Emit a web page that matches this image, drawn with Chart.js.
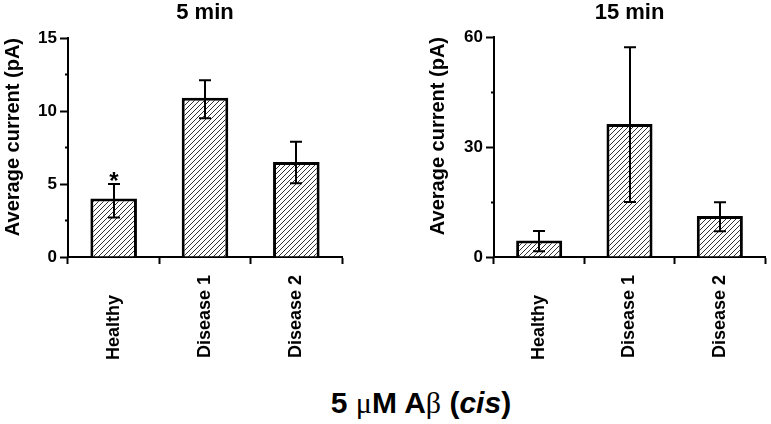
<!DOCTYPE html>
<html>
<head>
<meta charset="utf-8">
<script src="https://cdn.jsdelivr.net/npm/chart.js@4"></script>
<style>
  body { margin: 0; background: #fff; }
  #wrap { position: relative; width: 771px; height: 424px; overflow: hidden; font-family: "Liberation Sans", Arial, sans-serif; }
  #left { position: absolute; left: 0; top: 0; }
  #right { position: absolute; left: 425px; top: 0; }
  #caption { position: absolute; left: 221px; width: 400px; top: 388px; text-align: center;
             font-weight: bold; font-size: 30px; line-height: 30px; color: #000; }
  #caption .sym { font-family: "Liberation Serif", serif; font-weight: normal; }
</style>
</head>
<body>
<div id="wrap">
  <canvas id="left" width="360" height="370"></canvas>
  <canvas id="right" width="346" height="370"></canvas>
  <div id="caption">5 <span class="sym">μ</span>M A<span class="sym">β</span> (<i>cis</i>)</div>
</div>
<script>
'use strict';

// values
let categories = ['Healthy', 'Disease 1', 'Disease 2'];

let fiveMinValues = [4.0, 10.9, 6.5];
let fiveMinErrLow = [2.7, 9.5, 5.05];
let fiveMinErrHigh = [5.0, 12.1, 7.9];
let fiveMinMarks = ['*', '', ''];
let fiveMinTicks = [0, 5, 10, 15];
let fiveMinMinorTicks = [2.5, 7.5, 12.5];

let fifteenMinValues = [4.5, 36.3, 11.2];
let fifteenMinErrLow = [1.6, 15.0, 7.0];
let fifteenMinErrHigh = [7.1, 57.2, 14.9];
let fifteenMinMarks = ['', '', ''];
let fifteenMinTicks = [0, 30, 60];
let fifteenMinMinorTicks = [15, 45];

const FONT = '"Liberation Sans", Arial, sans-serif';
const LABEL_SIZE = 18;
Chart.defaults.font.family = FONT;
Chart.defaults.color = '#000';

// diagonal hatch fill for the bars
function makeHatch() {
  let size = 5;
  let c = document.createElement('canvas');
  c.width = size;
  c.height = size;
  let g = c.getContext('2d');
  g.fillStyle = '#fff';
  g.fillRect(0, 0, size, size);
  g.strokeStyle = '#333';
  g.lineWidth = 1;
  g.beginPath();
  g.moveTo(0, size); g.lineTo(size, 0);
  g.moveTo(-1, 1); g.lineTo(1, -1);
  g.moveTo(size - 1, size + 1); g.lineTo(size + 1, size - 1);
  g.stroke();
  return g.createPattern(c, 'repeat');
}

// error bars (and the significance star) drawn from the y scale
function makeErrorBars(low, high, marks) {
  return {
    id: 'errorBars',
    afterDatasetsDraw(chart) {
      let ctx = chart.ctx;
      let y = chart.scales.y;
      let meta = chart.getDatasetMeta(0);
      ctx.save();
      ctx.strokeStyle = '#000';
      ctx.lineWidth = 2;
      meta.data.forEach((bar, i) => {
        let x = Math.round(bar.x);
        let top = y.getPixelForValue(high[i]);
        let bottom = y.getPixelForValue(low[i]);
        ctx.beginPath();
        ctx.moveTo(x, top); ctx.lineTo(x, bottom);
        ctx.moveTo(x - 6, top); ctx.lineTo(x + 6, top);
        ctx.moveTo(x - 6, bottom); ctx.lineTo(x + 6, bottom);
        ctx.stroke();
        if (marks[i]) {
          ctx.fillStyle = '#000';
          ctx.font = 'bold 24px ' + FONT;
          ctx.textAlign = 'center';
          ctx.textBaseline = 'alphabetic';
          ctx.fillText(marks[i], x, top + 5);
        }
      });
      ctx.restore();
    }
  };
}

// pad shorter names so the rotated labels all end on the same line
function padLabel(value, index) {
  let ctx = this.chart.ctx;
  ctx.save();
  ctx.font = 'bold ' + LABEL_SIZE + 'px ' + FONT;
  let widths = categories.map(c => ctx.measureText(c).width);
  let space = ctx.measureText(' ').width;
  ctx.restore();
  let n = Math.round((Math.max(...widths) - widths[index]) / space);
  return categories[index] + ' '.repeat(n);
}

function buildChart(id, title, values, low, high, marks, majorTicks, minorTicks, yMax, axisWidth, padRight, titleGap) {
  let hatch = makeHatch();
  return new Chart(document.getElementById(id), {
    type: 'bar',
    data: {
      labels: categories,
      datasets: [{
        data: values,
        backgroundColor: hatch,
        borderColor: '#000',
        borderWidth: 3,
        borderSkipped: 'start',
        categoryPercentage: 1,
        barPercentage: 0.51
      }]
    },
    options: {
      responsive: false,
      animation: false,
      layout: { padding: { left: 0, right: padRight, top: 0, bottom: 0 } },
      plugins: {
        legend: { display: false },
        tooltip: { enabled: false },
        title: {
          display: true,
          text: title,
          fullSize: false,
          color: '#000',
          font: { size: 22, weight: 'bold' },
          padding: { top: 0, bottom: titleGap }
        }
      },
      scales: {
        x: {
          offset: true,
          border: { color: '#000', width: 2 },
          grid: { offset: true, drawOnChartArea: false, tickColor: '#000', tickWidth: 2, tickLength: 7 },
          ticks: {
            color: '#000',
            font: { size: LABEL_SIZE, weight: 'bold' },
            minRotation: 90,
            maxRotation: 90,
            autoSkip: false,
            padding: 11,
            callback: padLabel
          },
          afterFit: s => { s.height = 370 - 257; }
        },
        y: {
          min: 0,
          max: yMax,
          weight: 1,
          afterBuildTicks: s => { s.ticks = majorTicks.map(v => ({ value: v })); },
          border: { color: '#000', width: 2 },
          grid: { drawOnChartArea: false, tickColor: '#000', tickWidth: 2, tickLength: 8 },
          ticks: { color: '#000', font: { size: 17, weight: 'bold' }, padding: 3 },
          title: {
            display: true,
            text: 'Average current (pA)',
            align: 'end',
            color: '#000',
            font: { size: 20, weight: 'bold' },
            padding: { top: 1, bottom: 0 }
          },
          afterFit: s => { s.width = axisWidth; }
        },
        yMinor: {
          position: 'left',
          min: 0,
          max: yMax,
          weight: 0,
          afterBuildTicks: s => { s.ticks = minorTicks.map(v => ({ value: v })); },
          border: { display: false },
          grid: { drawOnChartArea: false, tickColor: '#000', tickWidth: 2, tickLength: 3 },
          ticks: { display: false },
          afterFit: s => { s.width = 0; }
        }
      }
    },
    plugins: [makeErrorBars(low, high, marks)]
  });
}

buildChart('left', '5 min', fiveMinValues, fiveMinErrLow, fiveMinErrHigh, fiveMinMarks,
  fiveMinTicks, fiveMinMinorTicks, 15, 68, 18, 11.6);
buildChart('right', '15 min', fifteenMinValues, fifteenMinErrLow, fifteenMinErrHigh, fifteenMinMarks,
  fifteenMinTicks, fifteenMinMinorTicks, 60, 69, 6, 10.6);
</script>
</body>
</html>
